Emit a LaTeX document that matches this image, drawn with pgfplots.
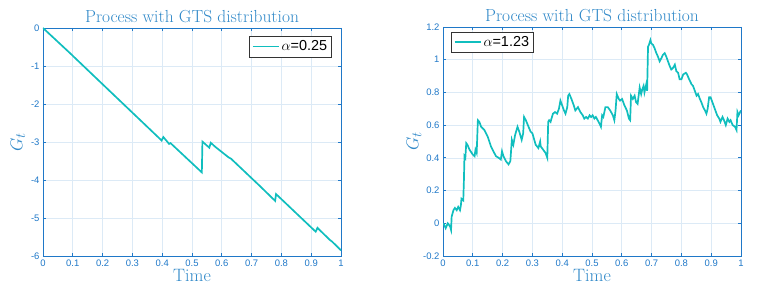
\documentclass[border=0pt]{standalone}
\usepackage{fontspec}
\usepackage{pgfplots}
\pgfplotsset{compat=1.18}
\newfontfamily\hv{Liberation Sans}
\definecolor{axblue}{HTML}{1F78C8}
\definecolor{ttlblue}{HTML}{2F88C8}
\definecolor{gridblue}{HTML}{DCEAF6}
\definecolor{linecyan}{HTML}{10BEBE}
\pgfplotsset{
  gtsaxis/.style={
    scale only axis, width=298bp, height=228bp,
    xmin=0, xmax=1,
    xtick={0,0.1,...,1},
    grid=major,
    major grid style={gridblue, line width=0.7pt},
    axis line style={axblue, line width=1pt},
    tick style={axblue, line width=0.8pt},
    major tick length=3bp,
    tick align=inside,
    xtick pos=both, ytick pos=both,
    ticklabel style={font=\hv\fontsize{9.5}{11}\selectfont, text=axblue},
    /pgf/number format/assume math mode=true,
    title style={font=\fontsize{17.5}{20}\selectfont, text=ttlblue, yshift=-4bp},
    xlabel style={font=\fontsize{18}{20}\selectfont, text=ttlblue, yshift=4bp},
    ylabel style={font=\fontsize{19}{20}\selectfont, text=ttlblue},
    title={Process with GTS distribution},
    xlabel={Time}, ylabel={$G_t$},
    xticklabel={\pgfmathprintnumber[fixed,precision=1]{\tick}},
    legend style={font=\hv\fontsize{14.5}{17}\selectfont, draw=black!80, line width=0.8pt, inner sep=2.5pt},
    legend image code/.code={\draw[#1, line width=1.6pt] (0bp,0bp) -- (26bp,0bp);},
    legend cell align=left,
  },
}
\begin{document}
\begin{tikzpicture}
\path[use as bounding box] (-43bp,-43bp) rectangle (714bp,256bp);
\begin{axis}[gtsaxis, at={(0,0)}, anchor=south west,
  ymin=-6, ymax=0, ytick={-6,-5,...,0},
  legend style={at={(0.97,0.965)}, anchor=north east},
  ylabel style={yshift=-1bp}]
\addplot[linecyan, line width=1.7pt] coordinates {
(0,0) (0.1,-0.73) (0.102,-0.75) (0.105,-0.77) (0.398,-2.96) (0.404,-2.87)
(0.42,-3.02) (0.423,-3.05) (0.428,-3.03) (0.533,-3.80) (0.535,-2.99)
(0.558,-3.15) (0.563,-3.02) (0.577,-3.12) (0.622,-3.40) (0.631,-3.44)
(0.728,-4.16) (0.779,-4.55) (0.782,-4.37) (0.915,-5.36) (0.921,-5.26)
(0.963,-5.58) (0.97,-5.62) (1,-5.85)
};
\addlegendentry{$\alpha$=0.25}
\end{axis}
\begin{axis}[gtsaxis, at={(400bp,0)}, anchor=south west, height=229bp,
  ymin=-0.2, ymax=1.2, ytick={-0.2,0,...,1.2},
  yticklabel={\pgfmathprintnumber[fixed,precision=1]{\tick}},
  legend style={at={(0.027,0.98)}, anchor=north west},
  ylabel style={yshift=-5bp}]
\addplot[linecyan, line width=1.7pt] coordinates {
(0,0) (0.004,-0.01) (0.009,-0.03) (0.016,0) (0.024,-0.02) (0.027,-0.04)
(0.029,0.04) (0.035,0.08) (0.04,0.094) (0.046,0.08) (0.051,0.1) (0.057,0.08)
(0.06,0.11) (0.062,0.15) (0.068,0.14) (0.07,0.25) (0.072,0.41) (0.075,0.40)
(0.078,0.49) (0.082,0.48) (0.089,0.45) (0.1,0.42) (0.106,0.41) (0.109,0.45)
(0.113,0.43) (0.117,0.63) (0.122,0.62) (0.128,0.59) (0.139,0.57) (0.15,0.53)
(0.161,0.47) (0.172,0.43) (0.178,0.41) (0.187,0.40) (0.194,0.39) (0.198,0.44)
(0.203,0.41) (0.211,0.38) (0.22,0.36) (0.226,0.38) (0.231,0.51) (0.236,0.48)
(0.242,0.54) (0.25,0.59) (0.256,0.56) (0.264,0.51) (0.269,0.55) (0.272,0.65)
(0.278,0.63) (0.287,0.59) (0.294,0.56) (0.3,0.55) (0.311,0.48) (0.32,0.46)
(0.326,0.50) (0.328,0.47) (0.336,0.45) (0.344,0.43) (0.35,0.40) (0.353,0.62)
(0.356,0.63) (0.361,0.62) (0.364,0.64) (0.369,0.67) (0.376,0.68) (0.383,0.67)
(0.389,0.70) (0.394,0.75) (0.4,0.72) (0.406,0.69) (0.411,0.67) (0.417,0.71)
(0.42,0.78) (0.424,0.79) (0.431,0.76) (0.439,0.72) (0.444,0.69) (0.453,0.71)
(0.461,0.68) (0.469,0.66) (0.474,0.64) (0.48,0.65) (0.486,0.64) (0.492,0.66)
(0.497,0.65) (0.502,0.66) (0.508,0.64) (0.513,0.65) (0.519,0.63) (0.525,0.61)
(0.53,0.59) (0.534,0.66) (0.538,0.65) (0.545,0.71) (0.553,0.71) (0.561,0.69)
(0.57,0.66) (0.575,0.63) (0.579,0.69) (0.583,0.79) (0.59,0.76) (0.594,0.75)
(0.601,0.76) (0.609,0.72) (0.617,0.69) (0.624,0.64) (0.628,0.63) (0.631,0.78)
(0.637,0.76) (0.643,0.78) (0.648,0.74) (0.653,0.73) (0.66,0.83) (0.665,0.79)
(0.669,0.82) (0.673,0.84) (0.676,0.80) (0.682,0.85) (0.685,0.81) (0.688,1.08)
(0.691,1.09) (0.696,1.12) (0.699,1.10) (0.705,1.09) (0.71,1.07) (0.716,1.04)
(0.721,1.02) (0.727,0.99) (0.733,1.01) (0.738,1.03) (0.744,1.04) (0.749,1.02)
(0.755,0.99) (0.761,0.96) (0.766,0.94) (0.772,0.95) (0.778,0.97) (0.783,0.93)
(0.789,0.92) (0.794,0.88) (0.8,0.88) (0.806,0.91) (0.815,0.92) (0.819,0.91)
(0.826,0.88) (0.834,0.85) (0.839,0.84) (0.845,0.81) (0.851,0.78) (0.856,0.79)
(0.862,0.76) (0.867,0.74) (0.873,0.71) (0.879,0.69) (0.884,0.67) (0.888,0.70)
(0.893,0.77) (0.898,0.77) (0.904,0.74) (0.912,0.70) (0.92,0.66) (0.927,0.64)
(0.931,0.62) (0.938,0.65) (0.943,0.63) (0.949,0.60) (0.955,0.64) (0.961,0.62)
(0.965,0.63) (0.972,0.60) (0.98,0.59) (0.985,0.57) (0.988,0.68) (0.992,0.66)
(0.997,0.68) (1,0.69)
};
\addlegendentry{$\alpha$=1.23}
\end{axis}
\end{tikzpicture}
\end{document}
